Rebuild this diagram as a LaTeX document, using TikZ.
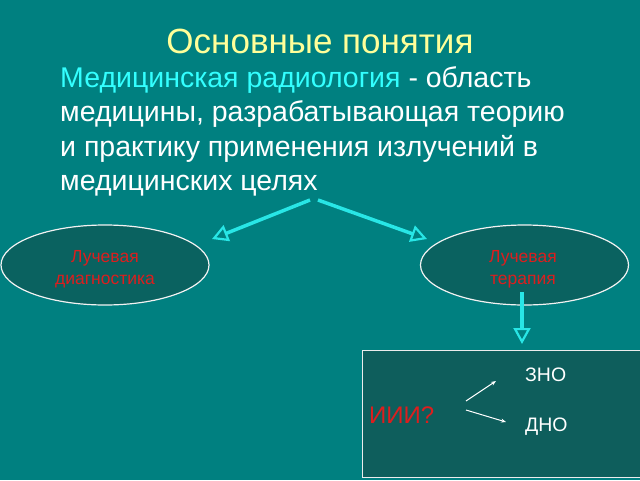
\documentclass[tikz,border=0pt]{standalone}
\usepackage{fontspec}
\setmainfont{Liberation Sans}
\usetikzlibrary{arrows.meta,shapes.geometric}
\definecolor{bg}{RGB}{0,128,128}
\definecolor{ellfill}{RGB}{10,98,96}
\definecolor{boxfill}{RGB}{14,94,92}
\definecolor{titlec}{RGB}{255,255,153}
\definecolor{cyanc}{RGB}{40,230,230}
\definecolor{redc}{RGB}{220,30,30}
\definecolor{hilite}{RGB}{51,255,255}
\begin{document}
\begin{tikzpicture}[x=1pt,y=-1pt,
  oval/.style={ellipse,draw=white!90!gray,line width=1.2pt,fill=ellfill,minimum width=208pt,minimum height=80pt,inner sep=0pt},
  ovaltext/.style={text=redc,font=\fontsize{17.5}{21.6}\selectfont,anchor=base,inner sep=0pt},
  bigarrow/.style={draw=cyanc,line width=3.5pt,-{Triangle[open,length=16pt,width=17pt,line width=2.2pt]}},
  thinarrow/.style={draw=white,line width=1pt,-{Stealth[length=5pt,width=4pt]}},
  body/.style={text=white,font=\fontsize{28.5}{34}\selectfont,anchor=base west,inner sep=0pt},
  small/.style={text=white,font=\fontsize{19.5}{24}\selectfont,anchor=base west,inner sep=0pt}]
\fill[bg] (0,0) rectangle (640,480);
\useasboundingbox (0,0) rectangle (640,480);
\node[text=titlec,font=\fontsize{35}{40}\selectfont,anchor=base,inner sep=0pt] (title) at (320,53) {Основные понятия};
\node[body] (l1) at (60,87.5) {\textcolor{hilite}{Медицинская радиология} - область};
\node[body] (l2) at (60,121.8) {медицины, разрабатывающая теорию};
\node[body] (l3) at (60,156.1) {и практику применения излучений в};
\node[body] (l4) at (60,190.4) {медицинских целях};
\coordinate (src1) at (310,200);
\coordinate (src2) at (318,200);
\node[oval] (diag) at (105,265) {};
\node[ovaltext] (d1) at (105,262.7) {Лучевая};
\node[ovaltext] (d2) at (105,284.3) {диагностика};
\node[oval] (ther) at (524.5,265) {};
\node[ovaltext] (t1) at (523,262.7) {Лучевая};
\node[ovaltext] (t2) at (523,284.3) {терапия};
\draw[bigarrow] (src1) -- (212,239);
\draw[bigarrow] (src2) -- (427,239);
\coordinate (dstart) at (522,292);
\node[draw=white!85!gray,line width=1.2pt,fill=boxfill,minimum width=280pt,minimum height=127pt,anchor=north west,inner sep=0pt] (box) at (362,350) {};
\draw[bigarrow] (dstart) -- (522,344);
\node[text=redc,font=\fontsize{24}{28}\selectfont,anchor=base west,inner sep=0pt] (iii) at (369,423) {ИИИ?};
\node[small] (zno) at (525,381.7) {ЗНО};
\node[small] (dno) at (525,431) {ДНО};
\draw[thinarrow] (466,401) -- (496,381);
\draw[thinarrow] (466,410) -- (506,422);
\end{tikzpicture}
\end{document}
